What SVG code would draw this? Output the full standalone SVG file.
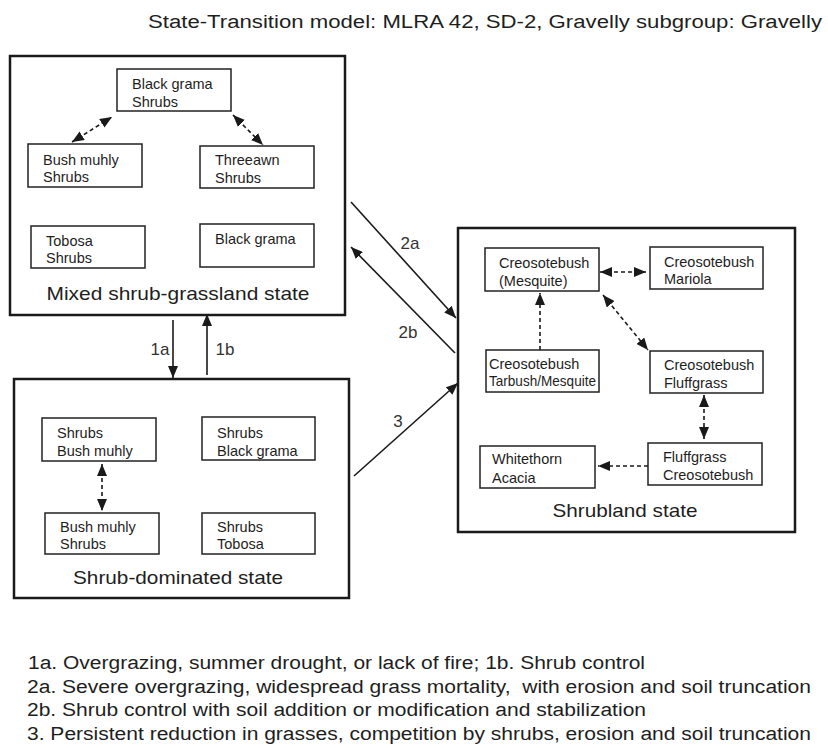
<svg xmlns="http://www.w3.org/2000/svg" width="828" height="748" viewBox="0 0 828 748">
<defs>
<marker id="ah" viewBox="0 0 12 10" refX="12" refY="5" markerWidth="12" markerHeight="10" markerUnits="userSpaceOnUse" orient="auto-start-reverse">
<path d="M0,0 L12,5 L0,10 z" fill="#1a1a1a"/>
</marker>
<style>
text{font-family:"Liberation Sans",Arial,sans-serif;fill:#1e1e1e}
.state{fill:#fff;stroke:#1a1a1a;stroke-width:2.5}
.box{fill:#fff;stroke:#222;stroke-width:1.5}
.t{font-size:14.5px}
.lbl{font-size:19px}
.tr{font-size:17px;fill:#333}
.note{font-size:18px}
.solid{stroke:#1a1a1a;stroke-width:1.6;fill:none}
.dash{stroke:#1a1a1a;stroke-width:1.6;fill:none;stroke-dasharray:4 3}
</style>
</defs>
<rect width="828" height="748" fill="#fff"/>
<text x="148" y="28" font-size="18" textLength="674" lengthAdjust="spacingAndGlyphs">State-Transition model: MLRA 42, SD-2, Gravelly subgroup: Gravelly</text>

<g id="state-mixed">
<rect class="state" x="10" y="56" width="335" height="259"/>
<text class="lbl" x="178" y="300" text-anchor="middle" textLength="263" lengthAdjust="spacingAndGlyphs">Mixed shrub-grassland state</text>
</g>
<g id="n-blackgrama-shrubs"><rect class="box" x="117" y="69" width="114" height="42"/><text class="t" x="132" y="89">Black grama</text><text class="t" x="132" y="107">Shrubs</text></g>
<g id="n-bushmuhly-shrubs"><rect class="box" x="28" y="144" width="114" height="43"/><text class="t" x="43" y="165">Bush muhly</text><text class="t" x="43" y="182">Shrubs</text></g>
<g id="n-threeawn-shrubs"><rect class="box" x="200" y="146" width="114" height="42"/><text class="t" x="215" y="165">Threeawn</text><text class="t" x="215" y="183">Shrubs</text></g>
<g id="n-tobosa-shrubs"><rect class="box" x="31" y="226" width="114" height="42"/><text class="t" x="46" y="246">Tobosa</text><text class="t" x="46" y="263">Shrubs</text></g>
<g id="n-blackgrama"><rect class="box" x="200" y="224" width="114" height="43"/><text class="t" x="215" y="244">Black grama</text></g>

<g id="state-shrubdom">
<rect class="state" x="14" y="379" width="335" height="219"/>
<text class="lbl" x="178" y="584" text-anchor="middle" textLength="210" lengthAdjust="spacingAndGlyphs">Shrub-dominated state</text>
</g>
<g id="n-shrubs-bushmuhly"><rect class="box" x="42" y="418" width="114" height="43"/><text class="t" x="57" y="438">Shrubs</text><text class="t" x="57" y="456">Bush muhly</text></g>
<g id="n-shrubs-blackgrama"><rect class="box" x="202" y="417" width="113" height="43"/><text class="t" x="217" y="438">Shrubs</text><text class="t" x="217" y="456">Black grama</text></g>
<g id="n-bushmuhly-shrubs2"><rect class="box" x="45" y="513" width="114" height="41"/><text class="t" x="60" y="532">Bush muhly</text><text class="t" x="60" y="549">Shrubs</text></g>
<g id="n-shrubs-tobosa"><rect class="box" x="202" y="513" width="113" height="41"/><text class="t" x="217" y="532">Shrubs</text><text class="t" x="217" y="549">Tobosa</text></g>

<g id="state-shrubland">
<rect class="state" x="458" y="228" width="337" height="304"/>
<text class="lbl" x="625" y="517" text-anchor="middle" textLength="145" lengthAdjust="spacingAndGlyphs">Shrubland state</text>
</g>
<g id="n-creo-mesq"><rect class="box" x="485" y="248" width="114" height="43"/><text class="t" x="499" y="268">Creosotebush</text><text class="t" x="499" y="286">(Mesquite)</text></g>
<g id="n-creo-mariola"><rect class="box" x="650" y="247" width="113" height="42"/><text class="t" x="664" y="267">Creosotebush</text><text class="t" x="664" y="284">Mariola</text></g>
<g id="n-creo-tarbush"><rect class="box" x="486" y="350" width="113" height="42"/><text class="t" x="489" y="369">Creosotebush</text><text class="t" x="489" y="386" textLength="107" lengthAdjust="spacingAndGlyphs">Tarbush/Mesquite</text></g>
<g id="n-creo-fluff"><rect class="box" x="650" y="351" width="113" height="42"/><text class="t" x="664" y="370">Creosotebush</text><text class="t" x="664" y="388">Fluffgrass</text></g>
<g id="n-whitethorn"><rect class="box" x="480" y="446" width="115" height="42"/><text class="t" x="492" y="464">Whitethorn</text><text class="t" x="492" y="483">Acacia</text></g>
<g id="n-fluff-creo"><rect class="box" x="648" y="443" width="114" height="42"/><text class="t" x="663" y="462">Fluffgrass</text><text class="t" x="663" y="480">Creosotebush</text></g>

<g id="connectors">
<line class="dash" x1="72" y1="142" x2="112" y2="117" marker-start="url(#ah)" marker-end="url(#ah)"/>
<line class="dash" x1="233" y1="115" x2="263" y2="145" marker-start="url(#ah)" marker-end="url(#ah)"/>
<line class="dash" x1="102" y1="464" x2="102" y2="511" marker-start="url(#ah)" marker-end="url(#ah)"/>
<line class="dash" x1="600" y1="272" x2="646" y2="272" marker-start="url(#ah)" marker-end="url(#ah)"/>
<line class="dash" x1="603" y1="295" x2="648" y2="350" marker-start="url(#ah)" marker-end="url(#ah)"/>
<line class="dash" x1="540" y1="350" x2="540" y2="293" marker-end="url(#ah)"/>
<line class="dash" x1="704" y1="395" x2="704" y2="439" marker-start="url(#ah)" marker-end="url(#ah)"/>
<line class="dash" x1="648" y1="466" x2="598" y2="466" marker-end="url(#ah)"/>

<line class="solid" x1="351" y1="202" x2="456" y2="318" marker-end="url(#ah)"/>
<line class="solid" x1="455" y1="353" x2="351" y2="247" marker-end="url(#ah)"/>
<line class="solid" x1="354" y1="476" x2="458" y2="383" marker-end="url(#ah)"/>
<line class="solid" x1="173" y1="320" x2="173" y2="378" marker-end="url(#ah)"/>
<line class="solid" x1="207" y1="375" x2="207" y2="314" marker-end="url(#ah)"/>
<text class="tr" x="410" y="249" text-anchor="middle">2a</text>
<text class="tr" x="408" y="338" text-anchor="middle">2b</text>
<text class="tr" x="398" y="427" text-anchor="middle">3</text>
<text class="tr" x="160" y="355" text-anchor="middle">1a</text>
<text class="tr" x="225" y="355" text-anchor="middle">1b</text>
</g>

<g id="notes">
<text class="note" x="28" y="669" textLength="617" lengthAdjust="spacingAndGlyphs">1a. Overgrazing, summer drought, or lack of fire; 1b. Shrub control</text>
<text class="note" x="27" y="693" textLength="784" lengthAdjust="spacingAndGlyphs" xml:space="preserve">2a. Severe overgrazing, widespread grass mortality,  with erosion and soil truncation</text>
<text class="note" x="27" y="716" textLength="619" lengthAdjust="spacingAndGlyphs">2b. Shrub control with soil addition or modification and stabilization</text>
<text class="note" x="27" y="740" textLength="784" lengthAdjust="spacingAndGlyphs">3. Persistent reduction in grasses, competition by shrubs, erosion and soil truncation</text>
</g>
</svg>
